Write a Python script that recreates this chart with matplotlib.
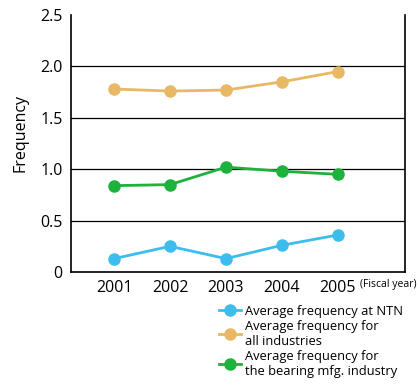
import numpy as np
import matplotlib.pyplot as plt
from matplotlib.lines import Line2D

years = [2001, 2002, 2003, 2004, 2005]
ntn = [0.13, 0.25, 0.13, 0.26, 0.36]
all_ind = [1.78, 1.76, 1.77, 1.85, 1.95]
bearing = [0.84, 0.85, 1.02, 0.98, 0.95]

labels = ["Average frequency at NTN",
          "Average frequency for\nall industries",
          "Average frequency for\nthe bearing mfg. industry"]
colors = ["#3dbdee", "#e8b865", "#1db23c"]

plt.rcParams['font.family'] = ['Open Sans', 'DejaVu Sans']

fig = plt.figure(figsize=(4.17, 3.91), dpi=100)
ax = fig.add_axes([71 / 417, 1 - 272 / 391, 334 / 417, 257 / 391])

for vals, c in zip([ntn, all_ind, bearing], colors):
    ax.plot(years, vals, color=c, lw=2, marker="o", ms=8, zorder=3)

ax.set_ylim(0, 2.5)
ax.set_xlim(2000.23, 2006.2)
ax.set_yticks([0, 0.5, 1.0, 1.5, 2.0, 2.5])
ax.set_yticklabels(["0", "0.5", "1.0", "1.5", "2.0", "2.5"])
ax.set_xticks(years)
ax.tick_params(length=0, labelsize=11.5, pad=6)
for y in [0.5, 1.0, 1.5, 2.0]:
    ax.axhline(y, color="black", lw=0.9, zorder=1)
ax.spines["top"].set_visible(False)
for s in ["left", "right", "bottom"]:
    ax.spines[s].set_linewidth(1.2)
ax.set_ylabel("Frequency", fontsize=11.5)
ax.yaxis.set_label_coords(-42 / 334, 0.54)

fig.text(360 / 417, 1 - 285 / 391, "(Fiscal year)", fontsize=7.5, va="center",
         ha="left")

handles = [Line2D([0], [0], color=c, lw=2, marker="o", ms=8) for c in colors]
fig.legend(handles, labels, loc="upper left", bbox_to_anchor=(219 / 417, 1 - 305 / 391),
           frameon=False, fontsize=9.3, handlelength=1.7, handletextpad=0.3,
           labelspacing=0.15, borderpad=0, borderaxespad=0)

fig.savefig("out.png", dpi=100)
